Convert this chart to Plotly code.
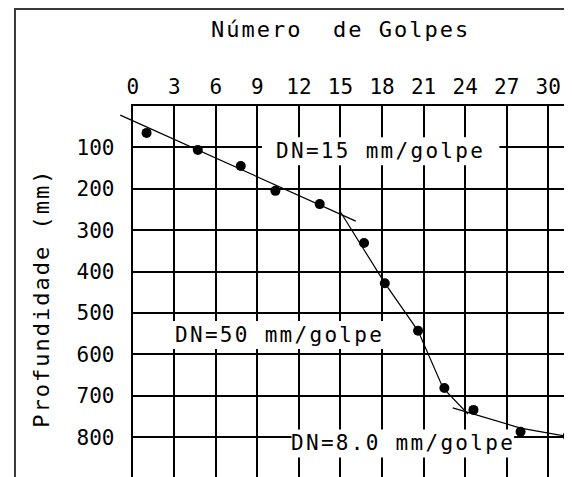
import plotly.graph_objects as go

# ensaio DCP
golpes = [1.0, 4.7, 7.8, 10.3, 13.5, 16.7, 18.2, 20.6, 22.5, 24.6, 28.0, 31.4]
profundidade = [65, 106, 145, 205, 237, 331, 428, 543, 681, 734, 787, 797]

# retas de tendencia (DN)
reta1_x = [-0.9, 16.1]
reta1_y = [22, 278]
reta2_x = [15.0, 18.2, 20.6, 22.4, 24.2]
reta2_y = [256, 428, 543, 681, 744]
reta3_x = [23.1, 28.0, 31.7]
reta3_y = [729, 778, 800]

ticks_x = list(range(0, 31, 3))
ticks_y = list(range(100, 801, 100))

rotulos = ['DN=15 mm/golpe', 'DN=50 mm/golpe', 'DN=8.0 mm/golpe']
rotulos_x = [17.9, 10.6, 19.5]
rotulos_y = [109, 553, 815]

fonte = 'DejaVu Sans Mono'
OFF = 8                      # margem do body da pagina
W, H = 572 - OFF, 477 - OFF
x0_px, top_px = 128, 106     # posicao na pagina do canto do grid
px_x = 14.0                  # px por golpe
px_y = 0.414                 # px por mm
xmax = (572 - x0_px) / px_x
ymax = (477 - top_px) / px_y


def fx(p):
    return (p - OFF) / W


def fy(p):
    return 1 - (p - OFF) / H


fig = go.Figure()

# fundo branco dos rotulos (entre o grid e os dados)
larg = [240, 225, 225]
for t, ax, ay, lw in zip(rotulos, rotulos_x, rotulos_y, larg):
    fig.add_shape(type='rect', xref='x', yref='y', layer='between',
                  x0=ax - lw / 2 / px_x, x1=ax + lw / 2 / px_x,
                  y0=ay - 14 / px_y, y1=ay + 14 / px_y,
                  fillcolor='white', line=dict(width=0))

for rx, ry in [(reta1_x, reta1_y), (reta2_x, reta2_y), (reta3_x, reta3_y)]:
    fig.add_trace(go.Scatter(x=rx, y=ry, mode='lines', xaxis='x2', yaxis='y2',
                             line=dict(color='black', width=1.2)))

fig.add_trace(go.Scatter(x=golpes, y=profundidade, mode='markers',
                         marker=dict(color='black', size=10), cliponaxis=False))

for t, ax, ay in zip(rotulos, rotulos_x, rotulos_y):
    fig.add_annotation(x=ax, y=ay, xref='x', yref='y', showarrow=False,
                       xanchor='center', yanchor='middle',
                       text='<span style="letter-spacing:2.3px">' + t + '</span>',
                       font=dict(family=fonte, size=21, color='black'))

fig.add_annotation(x=fx(338), y=fy(30), xref='paper', yref='paper', showarrow=False,
                   xanchor='center', yanchor='middle',
                   text='<span style="letter-spacing:2px">Número  de Golpes</span>',
                   font=dict(family=fonte, size=22, color='black'))
fig.add_annotation(x=fx(35), y=fy(298), xref='paper', yref='paper', showarrow=False,
                   xanchor='center', yanchor='middle', textangle=-90,
                   text='<span style="letter-spacing:2px">Profundidade (mm)</span>',
                   font=dict(family=fonte, size=22, color='black'))

# moldura externa
fig.add_shape(type='rect', xref='paper', yref='paper', x0=1 / W, x1=1.05,
              y0=-0.05, y1=1 - 1 / H, line=dict(color='#3a3a3a', width=2))

eixo_fonte = dict(family=fonte, size=21, color='black')
fig.update_layout(
    width=W, height=H,
    margin=dict(l=0, r=0, t=0, b=0),
    paper_bgcolor='white', plot_bgcolor='rgba(0,0,0,0)',
    showlegend=False,
    xaxis=dict(domain=[fx(x0_px), 1], range=[0, xmax], side='top', anchor='y',
               tickvals=ticks_x, showgrid=True, gridcolor='black', gridwidth=2,
               showline=True, linecolor='black', linewidth=2, zeroline=False,
               ticks='outside', ticklen=2, tickcolor='rgba(0,0,0,0)',
               tickfont=eixo_fonte),
    yaxis=dict(domain=[0, fy(top_px)], range=[ymax, 0], anchor='x',
               tickvals=ticks_y, showgrid=True, gridcolor='black', gridwidth=2,
               showline=True, linecolor='black', linewidth=2, zeroline=False,
               ticks='outside', ticklen=12, tickcolor='rgba(0,0,0,0)',
               tickfont=eixo_fonte),
    xaxis2=dict(domain=[0, 1], range=[-(x0_px - OFF) / px_x, xmax], anchor='y2',
                visible=False, showgrid=False),
    yaxis2=dict(domain=[0, fy(top_px)], range=[ymax, 0], anchor='x2',
                visible=False, showgrid=False),
)

fig.write_html("out.html")
